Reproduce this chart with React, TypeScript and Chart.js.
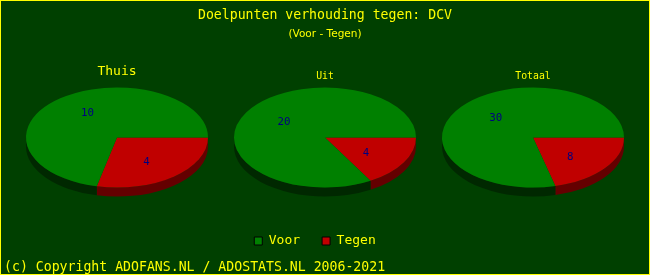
import React, { useEffect, useRef } from 'react';
import { Chart, registerables } from 'chart.js';

Chart.register(...registerables);

// ---- data ----
const categories = ['Voor', 'Tegen'];
const pieTitles = ['Thuis', 'Uit', 'Totaal'];
const voor = [10, 20, 30];
const tegen = [4, 4, 8];
const titleText = 'Doelpunten verhouding tegen: DCV';
const subtitleText = '(Voor - Tegen)';
const copyrightText = '(c) Copyright ADOFANS.NL / ADOSTATS.NL 2006-2021';

// ---- styles / layout ----
const BG = '#004000';
const YELLOW = '#FFFF00';
const sliceColors = ['#008000', '#C00000'];
const sideColors = ['#002800', '#640000'];
const LABEL_COLOR = '#000080';
const MONO = '"DejaVu Sans Mono", monospace';
const SANS = '"DejaVu Sans", sans-serif';
const PIE_X = [0.18, 0.5, 0.82];
const PIE_Y = 0.5;
const PIE_R = 0.14;
const ASPECT = 0.55;
const DEPTH = 9;
const CAPTION_SIZES = [13, 9.8, 9.8];
const CAPTION_BASE = [75, 79, 79];

const bgPlugin = {
  id: 'bgPlugin',
  beforeDraw(chart: any) {
    const ctx = chart.ctx;
    ctx.save();
    ctx.fillStyle = BG;
    ctx.fillRect(0, 0, chart.width, chart.height);
    ctx.restore();
  },
  afterDraw(chart: any) {
    const ctx = chart.ctx;
    ctx.save();
    ctx.strokeStyle = YELLOW;
    ctx.lineWidth = 1;
    ctx.strokeRect(0.5, 0.5, chart.width - 1, chart.height - 1);
    ctx.fillStyle = YELLOW;
    ctx.font = `13.2px ${MONO}`;
    ctx.textAlign = 'left';
    ctx.textBaseline = 'alphabetic';
    ctx.fillText(copyrightText, 4, 270.5);
    ctx.restore();
  },
};

const pie3d = {
  id: 'pie3d',
  afterLayout(chart: any) {
    if (chart.legend) {
      chart.legend.left -= 10;
      chart.legend.right -= 10;
    }
  },
  afterDatasetsUpdate(chart: any) {
    const W = chart.width;
    const H = chart.height;
    chart.data.datasets.forEach((_ds: any, i: number) => {
      const meta = chart.getDatasetMeta(i);
      meta.data.forEach((arc: any) => {
        arc.x = W * PIE_X[i];
        arc.y = H * PIE_Y;
        arc.outerRadius = W * PIE_R;
        arc.innerRadius = 0;
      });
    });
  },
  beforeDatasetDraw(chart: any, args: any) {
    const arcs = args.meta.data;
    if (!arcs.length) return;
    const ctx = chart.ctx;
    const cx = arcs[0].x;
    const cy = arcs[0].y;
    const rx = arcs[0].outerRadius;
    const ry = rx * ASPECT;
    const sides = [...sideColors].reverse();
    ctx.save();
    arcs.forEach((arc: any, j: number) => {
      const a1 = Math.max(arc.startAngle, 0);
      const a2 = Math.min(arc.endAngle, Math.PI);
      if (a2 > a1) {
        ctx.beginPath();
        ctx.ellipse(cx, cy, rx, ry, 0, a1, a2, false);
        ctx.ellipse(cx, cy + DEPTH, rx, ry, 0, a2, a1, true);
        ctx.closePath();
        ctx.fillStyle = sides[j];
        ctx.fill();
      }
    });
    ctx.restore();
    ctx.save();
    ctx.translate(cx, cy);
    ctx.scale(1, ASPECT);
    ctx.translate(-cx, -cy);
  },
  afterDatasetDraw(chart: any) {
    chart.ctx.restore();
  },
  afterDatasetsDraw(chart: any) {
    const ctx = chart.ctx;
    ctx.save();
    chart.data.datasets.forEach((ds: any, i: number) => {
      const arcs = chart.getDatasetMeta(i).data;
      if (!arcs.length) return;
      const cx = arcs[0].x;
      const cy = arcs[0].y;
      const rx = arcs[0].outerRadius;
      const ry = rx * ASPECT;
      ctx.fillStyle = LABEL_COLOR;
      ctx.font = `10.8px ${MONO}`;
      ctx.textAlign = 'center';
      ctx.textBaseline = 'middle';
      arcs.forEach((arc: any, j: number) => {
        const mid = (arc.startAngle + arc.endAngle) / 2;
        const x = cx + Math.cos(mid) * rx * 0.52;
        const y = cy + Math.sin(mid) * ry * 0.63;
        ctx.fillText(String(ds.data[j]), x, y);
      });
      ctx.fillStyle = YELLOW;
      ctx.font = `${CAPTION_SIZES[i]}px ${MONO}`;
      ctx.textBaseline = 'alphabetic';
      ctx.fillText(ds.label, cx, CAPTION_BASE[i]);
    });
    ctx.restore();
  },
};

export default function App() {
  const ref = useRef<HTMLCanvasElement | null>(null);
  useEffect(() => {
    document.body.style.margin = '0';
    if (!ref.current) return;
    const chart = new Chart(ref.current, {
      type: 'pie',
      data: {
        labels: [...categories].reverse(),
        datasets: pieTitles.map((t, i) => ({
          label: t,
          data: [tegen[i], voor[i]],
          backgroundColor: [...sliceColors].reverse(),
          borderWidth: 0,
        })),
      },
      options: {
        animation: false,
        responsive: false,
        events: [],
        rotation: 90,
        layout: { padding: { top: 0, bottom: 17.5, left: 0, right: 0 } },
        plugins: {
          title: {
            display: true,
            text: titleText,
            color: YELLOW,
            font: { family: MONO, size: 13.2, weight: 'normal' },
            padding: { top: 8, bottom: 0 },
          },
          subtitle: {
            display: true,
            text: subtitleText,
            color: YELLOW,
            font: { family: SANS, size: 10.5, weight: 'normal' },
            padding: { top: 4, bottom: 0 },
          },
          legend: {
            position: 'bottom',
            reverse: true,
            labels: {
              boxWidth: 8,
              boxHeight: 8,
              padding: 22,
              color: YELLOW,
              font: { family: MONO, size: 13 },
              generateLabels(c: any) {
                const items = (Chart as any).overrides.doughnut.plugins.legend.labels.generateLabels(c);
                return items.map((it: any) => ({ ...it, strokeStyle: '#000000', lineWidth: 1 }));
              },
            },
          },
          tooltip: { enabled: false },
        },
      } as any,
      plugins: [bgPlugin, pie3d],
    });
    return () => chart.destroy();
  }, []);
  return <canvas ref={ref} width={650} height={275} style={{ display: 'block' }} />;
}
